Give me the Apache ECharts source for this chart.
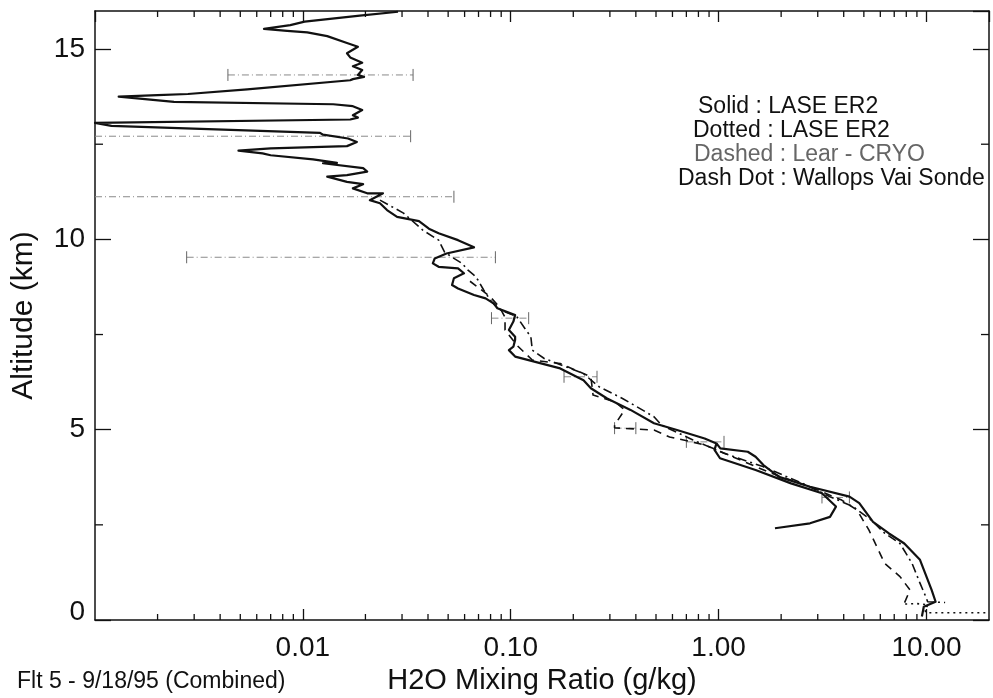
<!DOCTYPE html>
<html>
<head>
<meta charset="utf-8">
<script src="https://cdn.jsdelivr.net/npm/echarts@6/dist/echarts.min.js"></script>
<style>
  html, body { margin: 0; padding: 0; background: #fff; }
  #chart { width: 993px; height: 698px; }
</style>
</head>
<body>
<div id="chart"></div>
<script>
// H2O mixing ratio (g/kg) versus altitude (km), Flight 5, 18 Sep 1995

// Solid: LASE ER2 profile from the top of the plot down to the low-level hook
const laseMix = [0.0287, 0.0188, 0.0102, 0.0087, 0.0065, 0.0084, 0.0105, 0.0131, 0.0163, 0.0184,
  0.0163, 0.0169, 0.0193, 0.0174, 0.0193, 0.0184, 0.0197, 0.0174, 0.0169, 0.0054,
  0.0028, 0.0020, 0.0013, 0.0024, 0.0140, 0.0174, 0.0193, 0.0174, 0.0184, 0.0169,
  0.0010, 0.0012, 0.0121, 0.0125, 0.0165, 0.0182, 0.0163, 0.0070, 0.0049, 0.0064,
  0.0070, 0.0112, 0.0146, 0.0125, 0.0195, 0.0204, 0.0163, 0.0131, 0.0163, 0.0195,
  0.0174, 0.0204, 0.0243, 0.0210, 0.0235, 0.0254, 0.0284, 0.0362, 0.0404, 0.0450,
  0.0558, 0.0666, 0.0491, 0.0431, 0.0422, 0.0450, 0.0558, 0.0596, 0.0533, 0.0522,
  0.0558, 0.0666, 0.0757, 0.0827, 0.0863, 0.105, 0.103, 0.098, 0.105, 0.105,
  0.103, 0.098, 0.105, 0.173, 0.224, 0.243, 0.291, 0.377, 0.489, 0.631,
  0.857, 0.977, 0.956, 1.016, 1.507, 2.231, 3.144, 3.672, 3.436, 2.753, 1.868];
const laseAlt = [15.98, 15.88, 15.72, 15.63, 15.53, 15.48, 15.44, 15.34, 15.16, 15.06,
  14.89, 14.78, 14.64, 14.55, 14.45, 14.32, 14.27, 14.21, 14.18, 13.94,
  13.82, 13.79, 13.75, 13.61, 13.55, 13.50, 13.40, 13.26, 13.20, 13.15,
  13.06, 12.98, 12.80, 12.75, 12.65, 12.56, 12.45, 12.39, 12.33, 12.26,
  12.21, 12.10, 12.01, 12.00, 11.87, 11.78, 11.69, 11.65, 11.51, 11.45,
  11.34, 11.21, 11.21, 11.03, 10.95, 10.77, 10.59, 10.48, 10.28, 10.16,
  9.98, 9.79, 9.63, 9.50, 9.37, 9.28, 9.24, 9.11, 8.98, 8.80,
  8.71, 8.54, 8.45, 8.32, 8.19, 8.01, 7.84, 7.62, 7.44, 7.36,
  7.18, 7.09, 6.92, 6.61, 6.30, 6.09, 5.82, 5.52, 5.17, 4.99,
  4.77, 4.64, 4.47, 4.25, 3.94, 3.59, 3.33, 2.98, 2.71, 2.54, 2.41];

// Solid: lower LASE ER2 segment reaching the surface
const laseLowMix = [0.977, 1.020, 1.382, 1.507, 1.643, 1.953, 2.753, 4.264, 4.753, 5.533,
  6.575, 7.826, 9.311, 10.59, 11.07, 9.71, 9.51];
const laseLowAlt = [4.64, 4.51, 4.42, 4.29, 4.07, 3.76, 3.50, 3.24, 3.07, 2.58,
  2.28, 2.01, 1.58, 0.79, 0.48, 0.35, 0.09];

// Dotted: LASE ER2 near the surface
const dottedMix = [7.9, 9.0, 10.2, 9.8, 9.95, 20];
const dottedAlt = [0.42, 0.43, 0.40, 0.28, 0.19, 0.19];

// Dashed: Lear - CRYO
const cryoMix = [0.0637, 0.0795, 0.0888, 0.0939, 0.0939, 0.107, 0.127, 0.173, 0.243, 0.249,
  0.318, 0.353, 0.316, 0.316, 0.489, 0.581, 0.860, 1.787, 2.753, 3.911,
  4.633, 5.292, 6.297, 7.461, 8.335, 7.80];
const cryoAlt = [8.90, 8.50, 8.20, 7.95, 7.62, 7.22, 6.83, 6.74, 6.39, 5.91,
  5.73, 5.52, 5.12, 5.05, 4.99, 4.81, 4.60, 3.86, 3.50, 3.15,
  2.89, 2.36, 1.49, 1.14, 0.79, 0.42];

// Dash Dot: Wallops Vaisala sonde
const sondeMix = [0.0235, 0.0305, 0.0378, 0.0450, 0.0480, 0.0533, 0.0583, 0.0623, 0.0666, 0.0696,
  0.0741, 0.0808, 0.0898, 0.107, 0.117, 0.125, 0.127, 0.145, 0.223, 0.266,
  0.345, 0.489, 0.532, 0.753, 1.062, 1.636, 2.533, 3.436, 4.433, 5.412,
  6.297, 7.461, 8.521, 9.311, 9.929, 10.14, 12.3];
const sondeAlt = [11.03, 10.69, 10.24, 9.98, 9.67, 9.50, 9.37, 9.19, 9.06, 8.93,
  8.67, 8.36, 8.14, 7.97, 7.66, 7.44, 7.09, 6.87, 6.48, 6.13,
  5.82, 5.34, 5.12, 4.73, 4.38, 4.03, 3.59, 3.24, 2.98, 2.63,
  2.28, 2.01, 1.49, 0.97, 0.61, 0.48, 0.46];

// Horizontal error bars (low, high) at given altitudes
const errAlt = [14.32, 12.71, 11.12, 9.53, 7.93, 6.39, 5.04, 4.68, 3.22];
const errLow = [0.00436, 0.0008, 0.0008, 0.00276, 0.0808, 0.1805, 0.316, 0.70, 3.144];
const errHigh = [0.0339, 0.0330, 0.0533, 0.0844, 0.1220, 0.2601, 0.40, 1.062, 4.26];

// Axis ranges, tick values and labels
const mixMin = 0.001, mixMax = 20;
const altMin = 0, altMax = 16, altStep = 5;
const mixMinorTicks = [0.002, 0.003, 0.004, 0.005, 0.006, 0.007, 0.008, 0.009,
  0.02, 0.03, 0.04, 0.05, 0.06, 0.07, 0.08, 0.09,
  0.2, 0.3, 0.4, 0.5, 0.6, 0.7, 0.8, 0.9,
  2, 3, 4, 5, 6, 7, 8, 9];
const altMinorTicks = [2.5, 7.5, 12.5];

const legendLines = ['Solid : LASE ER2', 'Dotted : LASE ER2', 'Dashed : Lear - CRYO', 'Dash Dot : Wallops Vai Sonde'];
const footnote = 'Flt 5 - 9/18/95 (Combined)';

const FONT = '"Liberation Sans", Arial, Helvetica, sans-serif';
const INK = '#111';

const zip = (xs, ys) => xs.map((x, i) => [x, ys[i]]);

function profile(name, xs, ys, type, width) {
  return {
    name, type: 'line', data: zip(xs, ys), showSymbol: false, symbol: 'none',
    xAxisIndex: 0, yAxisIndex: 0, clip: true, silent: true,
    lineStyle: { color: INK, width, type, cap: 'butt', join: 'round' }
  };
}

const chart = echarts.init(document.getElementById('chart'), null, { renderer: 'canvas' });

const xAxisBase = {
  type: 'log', logBase: 10, min: mixMin, max: mixMax,
  axisLine: { show: true, onZero: false, lineStyle: { color: INK, width: 1.5 } },
  axisTick: { show: true, inside: true, length: 11, lineStyle: { color: INK, width: 1.3 } },
  splitLine: { show: false }, minorTick: { show: false }
};
const yAxisBase = {
  type: 'value', min: altMin, max: altMax, interval: altStep,
  axisLine: { show: true, onZero: false, lineStyle: { color: INK, width: 1.5 } },
  axisTick: { show: true, inside: true, length: 16, lineStyle: { color: INK, width: 1.3 } },
  splitLine: { show: false }
};

chart.setOption({
  animation: false,
  backgroundColor: '#fff',
  grid: { left: 95, right: 4, top: 11, bottom: 78, containLabel: false, outerBoundsMode: 'none' },
  xAxis: [
    Object.assign({}, xAxisBase, {
      position: 'bottom',
      name: 'H2O Mixing Ratio (g/kg)', nameLocation: 'middle', nameGap: 40,
      nameTextStyle: { fontFamily: FONT, fontSize: 29, color: INK },
      axisLabel: {
        show: true, margin: 14, fontFamily: FONT, fontSize: 28, color: INK,
        showMinLabel: false, showMaxLabel: false, hideOverlap: false,
        formatter: v => (v < 0.005 || v > 15) ? '' : v.toFixed(2)
      }
    }),
    Object.assign({}, xAxisBase, { position: 'top', axisLabel: { show: false } })
  ],
  yAxis: [
    Object.assign({}, yAxisBase, {
      position: 'left',
      name: 'Altitude (km)', nameLocation: 'middle', nameGap: 56, nameRotate: 90,
      nameTextStyle: { fontFamily: FONT, fontSize: 30, color: INK },
      axisLabel: {
        show: true, margin: 10, fontFamily: FONT, fontSize: 28, color: INK,
        showMaxLabel: false,
        formatter: v => v === 0 ? '{z|0}' : (v % altStep === 0 ? String(v) : ''),
        rich: { z: { fontFamily: FONT, fontSize: 28, color: INK, padding: [0, 0, 16, 0] } }
      }
    }),
    Object.assign({}, yAxisBase, { position: 'right', axisLabel: { show: false } })
  ],
  graphic: legendLines.map((t, i) => ({
    type: 'text',
    x: [698, 693, 694, 678][i],
    y: [107, 131, 155, 179][i],
    silent: true,
    style: {
      text: t, fontFamily: FONT, fontSize: 23,
      fill: i === 2 ? '#666' : INK, verticalAlign: 'middle', textVerticalAlign: 'middle'
    }
  })).concat([{
    type: 'text', x: 17, y: 682, silent: true,
    style: { text: footnote, fontFamily: FONT, fontSize: 23, fill: INK,
      verticalAlign: 'middle', textVerticalAlign: 'middle' }
  }]),
  series: [
    // error bars with end caps
    {
      type: 'custom', xAxisIndex: 0, yAxisIndex: 0, silent: true,
      data: errAlt.map((a, i) => [errLow[i], errHigh[i], a]),
      encode: { x: [0, 1], y: 2 },
      renderItem: (params, api) => {
        const cs = params.coordSys;
        const p1 = api.coord([api.value(0), api.value(2)]);
        const p2 = api.coord([api.value(1), api.value(2)]);
        const xl = Math.max(p1[0], cs.x), xr = Math.min(p2[0], cs.x + cs.width);
        const kids = [{
          type: 'line', shape: { x1: xl, y1: p1[1], x2: xr, y2: p1[1] },
          style: { stroke: '#8a8a8a', lineWidth: 1, lineDash: [7, 3, 1, 3] }
        }];
        [p1, p2].forEach(p => {
          if (p[0] >= cs.x && p[0] <= cs.x + cs.width) {
            kids.push({ type: 'line', shape: { x1: p[0], y1: p[1] - 6, x2: p[0], y2: p[1] + 6 },
              style: { stroke: '#666', lineWidth: 1 } });
          }
        });
        return { type: 'group', children: kids };
      }
    },
    profile('Wallops Vai Sonde', sondeMix, sondeAlt, [9, 4, 2, 4], 1.6),
    profile('Lear - CRYO', cryoMix, cryoAlt, [8, 6], 1.6),
    profile('LASE ER2 dotted', dottedMix, dottedAlt, [2, 4], 1.6),
    profile('LASE ER2', laseMix, laseAlt, 'solid', 2.2),
    profile('LASE ER2 low', laseLowMix, laseLowAlt, 'solid', 2.2),
    // minor ticks on the log axis, bottom and top
    {
      type: 'custom', xAxisIndex: 0, yAxisIndex: 0, silent: true,
      data: mixMinorTicks.map(v => [v, altMin]),
      encode: { x: 0, y: 1 },
      renderItem: (params, api) => {
        const b = api.coord([api.value(0), altMin]);
        const t = api.coord([api.value(0), altMax]);
        const st = { stroke: INK, lineWidth: 1.3 };
        return { type: 'group', children: [
          { type: 'line', shape: { x1: b[0], y1: b[1], x2: b[0], y2: b[1] - 6 }, style: st },
          { type: 'line', shape: { x1: t[0], y1: t[1], x2: t[0], y2: t[1] + 6 }, style: st }
        ] };
      }
    },
    // minor ticks on the altitude axis, left and right
    {
      type: 'custom', xAxisIndex: 0, yAxisIndex: 0, silent: true,
      data: altMinorTicks.map(a => [mixMin, a]),
      encode: { x: 0, y: 1 },
      renderItem: (params, api) => {
        const l = api.coord([mixMin, api.value(1)]);
        const r = api.coord([mixMax, api.value(1)]);
        const st = { stroke: INK, lineWidth: 1.3 };
        return { type: 'group', children: [
          { type: 'line', shape: { x1: l[0], y1: l[1], x2: l[0] + 8, y2: l[1] }, style: st },
          { type: 'line', shape: { x1: r[0], y1: r[1], x2: r[0] - 8, y2: r[1] }, style: st }
        ] };
      }
    }
  ]
});
</script>
</body>
</html>
